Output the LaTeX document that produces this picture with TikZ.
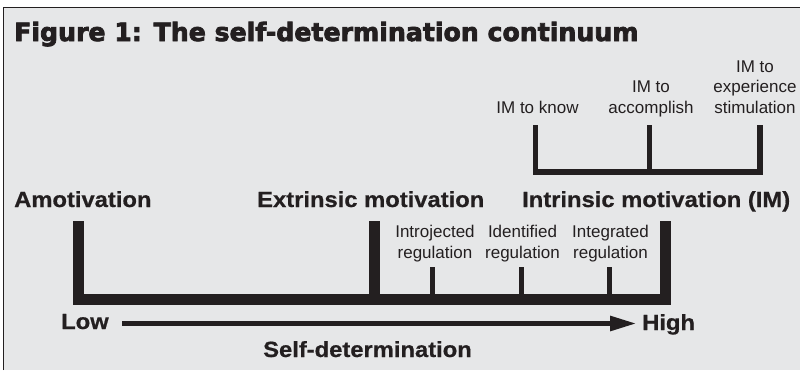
\documentclass[tikz,border=0pt]{standalone}
\usepackage{fontspec}
\setmainfont{Liberation Sans}
\newfontfamily\titlefont[BoldFeatures={FakeBold=3}]{DejaVu Sans}
\newfontfamily\headfont[BoldFeatures={FakeStretch=1.08,FakeBold=0.6}]{Liberation Sans}
\usetikzlibrary{arrows.meta}
\definecolor{ink}{HTML}{231F20}
\definecolor{panel}{HTML}{E6E7E8}

\begin{document}
\begin{tikzpicture}[x=1pt,y=-1pt,
  titletext/.style={anchor=base west, inner sep=0pt, text=ink,
    font=\titlefont\bfseries\fontsize{25.2}{30}\selectfont},
  head/.style={anchor=base west, inner sep=0pt, text=ink,
    font=\headfont\bfseries\fontsize{22}{26}\selectfont},
  small/.style={anchor=base, inner sep=0pt, text=ink, align=center,
    font=\fontsize{17}{20.5}\selectfont},
  thickbar/.style={draw=ink, line width=11pt},
  tickbar/.style={draw=ink, line width=4.5pt},
  thinbar/.style={draw=ink, line width=5.7pt}]

  % page and panel
  \useasboundingbox (0,0) rectangle (800,370);
  \fill[white] (0,0) rectangle (800,370);
  \fill[panel] (3.5,7.5) rectangle (800,370);
  \draw[ink, line width=1.5pt] (3.5,370) -- (3.5,7.5) -- (800,7.5);

  % title
  \node[titletext] (title) at (14,41) {Figure 1: The self-determination continuum};

  % main categories
  \node[head] (amot) at (14,207) {Amotivation};
  \node[head] (extr) at (257,207) {Extrinsic motivation};
  \node[head] (intr) at (522,207) {Intrinsic motivation (IM)};

  % main bracket
  \coordinate (amotTop) at (78.5,221);
  \coordinate (extrTop) at (374.5,221);
  \coordinate (intrTop) at (665,221);
  \coordinate (barR) at (665,299.5);
  \draw[thickbar] (amotTop) |- (barR) -- (intrTop);
  \draw[thickbar] (extrTop) -- (extrTop |- barR);

  % regulation types (base = last line)
  \node[small] (intro) at (435,258) {Introjected\\regulation};
  \node[small] (ident) at (522.5,258) {Identified\\regulation};
  \node[small] (integ) at (610.5,258) {Integrated\\regulation};
  \coordinate (tIntro) at (432.5,267);
  \coordinate (tIdent) at (521.5,267);
  \coordinate (tInteg) at (609.5,267);
  \draw[tickbar] (tIntro) -- (tIntro |- barR);
  \draw[tickbar] (tIdent) -- (tIdent |- barR);
  \draw[tickbar] (tInteg) -- (tInteg |- barR);

  % types of intrinsic motivation
  \node[small] (know) at (537.5,113) {IM to know};
  \node[small] (accomp) at (651,113) {IM to\\accomplish};
  \node[small] (stim) at (755,113) {IM to\\experience\\stimulation};
  \coordinate (kKnow) at (535.5,125);
  \coordinate (kAccomp) at (649.5,125);
  \coordinate (kStim) at (760,125);
  \coordinate (kBase) at (760,172);
  \draw[thinbar] (kKnow) |- (kBase) -- (kStim);
  \draw[thinbar] (kAccomp) -- (kAccomp |- kBase);

  % self-determination axis
  \node[head] (low) at (61,329) {Low};
  \node[head] (high) at (642,330) {High};
  \coordinate (axisStart) at (122,323.5);
  \coordinate (axisEnd) at (637,323.5);
  \draw[ink, line width=5.5pt, -{Triangle[length=27pt,width=14pt]}] (axisStart) -- (axisEnd);
  \node[head] (sd) at (263,357) {Self-determination};
\end{tikzpicture}
\end{document}
